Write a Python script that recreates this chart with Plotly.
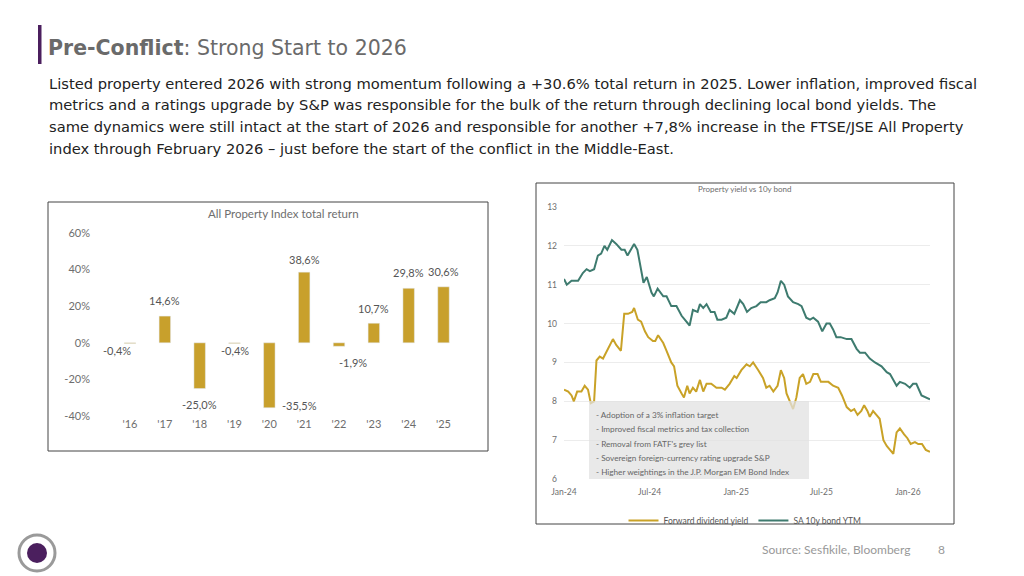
import plotly.graph_objects as go
import pandas as pd

years = ["'16", "'17", "'18", "'19", "'20", "'21", "'22", "'23", "'24", "'25"]
returns = [-0.4, 14.6, -25.0, -0.4, -35.5, 38.6, -1.9, 10.7, 29.8, 30.6]

bond_days = [0,6,16,30,40,48,55,64,72,79,86,92,102,111,122,129,135,149,156,169,176,186,191,199,211,218,228,239,250,260,267,274,284,289,296,303,312,320,326,335,345,352,362,374,381,389,398,409,418,430,437,448,454,461,468,476,487,498,505,515,523,530,540,549,558,565,572,579,588,601,611,622,629,640,650,661,675,686,693,707,714,725,735,742,749,760,771,778]
bond_vals = [11.15,11.0,11.1,11.1,11.3,11.4,11.35,11.4,11.75,11.8,12.0,11.9,12.15,12.05,11.9,11.9,11.75,12.05,11.9,11.05,11.2,10.8,10.7,10.9,10.7,10.7,10.45,10.45,10.2,10.05,9.95,10.35,10.3,10.5,10.4,10.5,10.3,10.3,10.1,10.1,10.15,10.35,10.25,10.6,10.5,10.3,10.4,10.45,10.55,10.55,10.6,10.65,10.8,11.1,11.0,10.7,10.55,10.5,10.45,10.15,10.1,10.15,10.05,9.8,10.0,10.0,9.85,9.65,9.65,9.6,9.6,9.35,9.25,9.25,9.1,9.0,8.9,8.75,8.7,8.4,8.5,8.45,8.35,8.45,8.45,8.15,8.1,8.05]
yield_days = [0,9,16,21,28,37,44,51,57,64,69,76,83,94,104,111,121,128,136,145,149,157,164,172,179,189,194,200,211,218,228,234,241,250,255,262,267,274,281,289,296,303,313,324,335,342,352,362,367,377,388,395,402,413,423,430,437,445,454,461,468,473,480,487,494,501,508,515,523,530,539,546,554,562,572,583,591,601,610,617,624,632,638,645,650,657,664,671,679,686,693,700,707,714,723,730,737,746,753,761,769,778]
yield_vals = [8.3,8.25,8.15,8.0,8.25,8.25,8.4,8.3,7.95,8.0,9.05,9.15,9.1,9.35,9.6,9.45,9.3,10.25,10.25,10.3,10.4,10.1,10.05,9.8,9.65,9.55,9.55,9.7,9.5,9.3,9.0,8.9,8.4,8.2,8.1,8.4,8.2,8.35,8.25,8.55,8.25,8.45,8.45,8.35,8.35,8.3,8.45,8.65,8.6,8.8,8.95,8.9,9.0,8.8,8.6,8.35,8.4,8.25,8.4,8.8,8.6,8.2,8.0,7.8,8.1,8.6,8.7,8.45,8.5,8.7,8.7,8.5,8.5,8.5,8.4,8.35,8.15,7.85,7.75,7.8,7.65,7.75,7.9,7.75,7.6,7.75,7.65,7.55,7.0,6.85,6.75,6.65,7.2,7.3,7.15,7.05,6.9,6.95,6.9,6.9,6.75,6.7]
notes = ["- Adoption of a 3% inflation target", "- Improved fiscal metrics and tax collection",
         "- Removal from FATF's grey list", "- Sovereign foreign-currency rating upgrade S&P",
         "- Higher weightings in the J.P. Morgan EM Bond Index"]
body = ["Listed property entered 2026 with strong momentum following a +30.6% total return in 2025. Lower inflation, improved fiscal",
        "metrics and a ratings upgrade by S&P was responsible for the bulk of the return through declining local bond yields. The",
        "same dynamics were still intact at the start of 2026 and responsible for another +7,8% increase in the FTSE/JSE All Property",
        "index through February 2026 \u2013 just before the start of the conflict in the Middle-East."]

W, H = 1024, 576
OFF = 8  # page body margin
px = lambda v: (v - OFF) / W
py = lambda v: 1 - (v - OFF) / H
start = pd.Timestamp("2024-01-01")
bond_dates = [start + pd.Timedelta(days=d) for d in bond_days]
yield_dates = [start + pd.Timedelta(days=d) for d in yield_days]

GOLD = "#C9A227"
TEAL = "#3E7B6F"
GREY = "#6E6E6E"
F = "Lato"

fig = go.Figure()
fig.add_trace(go.Bar(x=years, y=returns, marker_color="#C8A02C", width=0.33,
                     xaxis="x", yaxis="y", showlegend=False, hoverinfo="skip"))
fig.add_trace(go.Scatter(x=yield_dates, y=yield_vals, mode="lines", line=dict(color=GOLD, width=2),
                         name="Forward dividend yield", xaxis="x2", yaxis="y2"))
fig.add_trace(go.Scatter(x=bond_dates, y=bond_vals, mode="lines", line=dict(color=TEAL, width=2),
                         name="SA 10y bond YTM", xaxis="x2", yaxis="y2"))

def A(x, y, text, size, color, family=F, xanchor="center"):
    return dict(x=px(x), y=py(y), xref="paper", yref="paper", text=text, showarrow=False,
                xanchor=xanchor, yanchor="middle", font=dict(size=size, color=color, family=family))

ann = []
offs = {0: (-13, -7), 1: (0, 16), 2: (0, -16), 3: (0, -7), 4: (30, 2),
        5: (0, 13), 6: (14, -16), 7: (0, 15), 8: (0, 16), 9: (0, 15)}
for i, (c, v) in enumerate(zip(years, returns)):
    dx, dy = offs[i]
    ann.append(dict(x=c, y=v, xref="x", yref="y", text=f"{v:.1f}".replace(".", ",") + "%",
                    showarrow=False, xshift=dx, yshift=dy, xanchor="center", yanchor="middle",
                    font=dict(size=11, color="#555", family=F)))
ann.append(A(283, 214, "All Property Index total return", 11.5, GREY))
ann.append(A(745, 189, "Property yield vs 10y bond", 8, GREY))
for i, t in enumerate(notes):
    ann.append(A(594, 415 + 14.3 * i, t, 8.2, "#666", xanchor="left"))
ann.append(A(46, 48, "<b>Pre-Conflict</b>: Strong Start to 2026", 20.5, "#6A6A6A", "DejaVu Sans", "left"))
for i, t in enumerate(body):
    ann.append(A(47, 83 + 21.7 * i, t, 14.7, "#222", "DejaVu Sans", "left"))
ann.append(A(912, 549, "Source: Sesfikile, Bloomberg", 12, "#999", xanchor="right"))
ann.append(A(941, 549, "8", 12, "#999"))

shapes = [
    dict(type="rect", xref="paper", yref="paper", x0=px(48), x1=px(488), y0=py(451), y1=py(202),
         line=dict(color="#444", width=1)),
    dict(type="rect", xref="paper", yref="paper", x0=px(536), x1=px(954), y0=py(524), y1=py(183),
         line=dict(color="#444", width=1)),
    dict(type="rect", xref="paper", yref="paper", x0=px(589), x1=px(809), y0=py(479), y1=py(401),
         fillcolor="rgba(225,225,225,0.75)", line=dict(width=0), layer="above"),
    dict(type="rect", xref="paper", yref="paper", x0=px(38), x1=px(41.5), y0=py(64), y1=py(25),
         fillcolor="#4B1F5E", line=dict(width=0)),
    dict(type="circle", xref="paper", yref="paper", x0=px(19), x1=px(55), y0=py(571), y1=py(535),
         fillcolor="white", line=dict(color="#9A9A9A", width=3)),
    dict(type="circle", xref="paper", yref="paper", x0=px(27), x1=px(47), y0=py(563), y1=py(543),
         fillcolor="#4B1F5E", line=dict(width=0)),
]

fig.update_layout(
    width=W, height=H, margin=dict(l=0, r=0, t=0, b=0, autoexpand=False),
    paper_bgcolor="white", plot_bgcolor="white",
    bargap=0.5, annotations=ann, shapes=shapes,
    xaxis=dict(domain=[px(101), px(461)], anchor="y", showgrid=False, ticks="",
               tickfont=dict(size=11, color=GREY, family=F), fixedrange=True, automargin=False),
    yaxis=dict(domain=[py(416), py(233)], range=[-40, 60], tickvals=[-40, -20, 0, 20, 40, 60],
               ticktext=["-40%", "-20%", "0%", "20%", "40%", "60%"], showgrid=False, zeroline=False,
               anchor="free", position=px(90), automargin=False,
               tickfont=dict(size=11, color=GREY, family=F)),
    xaxis2=dict(domain=[px(564), px(930)], anchor="y2", range=[start, start + pd.Timedelta(days=778)],
                tickformat="%b-%y", dtick="M6", tick0="2024-01-01", showgrid=False, ticks="",
                ticklabelstandoff=6, automargin=False, tickfont=dict(size=8.5, color=GREY, family=F)),
    yaxis2=dict(domain=[py(479), py(207)], range=[6, 13], dtick=1, anchor="free", position=px(557),
                showgrid=True, gridcolor="#ececec", zeroline=False, automargin=False,
                tickfont=dict(size=8.5, color=GREY, family=F)),
    legend=dict(orientation="h", x=px(745), xanchor="center", y=py(506), yanchor="top",
                font=dict(size=8.5, color="#555", family=F), bgcolor="rgba(0,0,0,0)"),
)
fig.write_html("out.html")
